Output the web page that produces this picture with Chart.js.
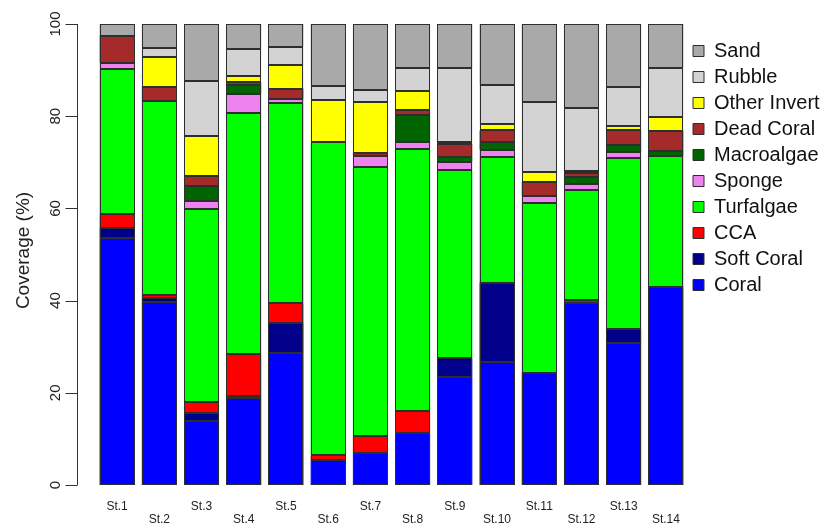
<!DOCTYPE html>
<html>
<head>
<meta charset="utf-8">
<script src="https://cdn.jsdelivr.net/npm/chart.js@4/dist/chart.umd.min.js"></script>
<style>
  html, body { margin: 0; padding: 0; background: #ffffff; }
  #wrap { width: 829px; height: 527px; position: relative; }
</style>
</head>
<body>
<div id="wrap"><canvas id="c"></canvas></div>
<script>
// Stations along the x axis
const stations = ['St.1','St.2','St.3','St.4','St.5','St.6','St.7','St.8','St.9','St.10','St.11','St.12','St.13','St.14'];

// Percent cover per benthic category, one value per station (bottom of stack first)
const coral       = [53.5, 39.8, 13.9, 18.8, 28.6,  5.4,  7.0, 11.2, 23.5, 26.7, 24.4, 39.5, 30.7, 43.0];
const softCoral   = [ 2.2,  0.7,  1.8,  0.6,  6.6,  0.0,  0.0,  0.0,  4.0, 17.2,  0.0,  0.0,  3.1,  0.0];
const cca         = [ 3.0,  0.7,  2.4,  9.0,  4.2,  1.0,  3.7,  4.9,  0.0,  0.0,  0.0,  0.6,  0.0,  0.0];
const turfalgae   = [31.5, 42.1, 41.7, 52.4, 43.4, 67.9, 58.3, 56.7, 40.8, 27.3, 36.8, 23.9, 37.2, 28.4];
const sponge      = [ 1.4,  0.0,  1.9,  4.0,  0.9,  0.0,  2.4,  1.7,  1.8,  1.5,  1.5,  1.4,  1.3,  0.0];
const macroalgae  = [ 0.0,  0.0,  3.2,  2.0,  0.0,  0.0,  0.0,  5.8,  1.1,  1.6,  0.0,  1.5,  1.5,  1.1];
const deadCoral   = [ 5.9,  3.1,  2.1,  0.7,  2.3,  0.0,  0.7,  1.0,  2.8,  2.6,  3.1,  0.7,  3.2,  4.3];
const otherInvert = [ 0.0,  6.5,  8.7,  1.2,  5.0,  9.2, 11.0,  4.2,  0.5,  1.5,  2.2,  0.5,  0.9,  3.1];
const rubble      = [ 0.0,  2.0, 11.9,  5.8,  4.1,  3.1,  2.6,  4.9, 15.9,  8.4, 15.1, 13.7,  8.5, 10.6];
const sand        = [ 2.5,  5.1, 12.4,  5.5,  4.9, 13.4, 14.3,  9.6,  9.6, 13.2, 16.9, 18.2, 13.6,  9.5];

// Y axis ticks
const yTicks = [0, 20, 40, 60, 80, 100];
const yTitle = 'Coverage (%)';

const FONT = '"Liberation Sans", Arial, Helvetica, sans-serif';
const EDGE = '#2e2e2e';
Chart.defaults.font.family = FONT;

const series = [
  { label: 'Coral',        data: coral,       color: '#0000FF' },
  { label: 'Soft Coral',   data: softCoral,   color: '#00008B' },
  { label: 'CCA',          data: cca,         color: '#FF0000' },
  { label: 'Turfalgae',    data: turfalgae,   color: '#00FF00' },
  { label: 'Sponge',       data: sponge,      color: '#EE82EE' },
  { label: 'Macroalgae',   data: macroalgae,  color: '#006400' },
  { label: 'Dead Coral',   data: deadCoral,   color: '#A52A2A' },
  { label: 'Other Invert', data: otherInvert, color: '#FFFF00' },
  { label: 'Rubble',       data: rubble,      color: '#D3D3D3' },
  { label: 'Sand',         data: sand,        color: '#A9A9A9' }
];

// Staggered station labels: odd stations on the first line, even on the second
const tickLabels = stations.map((s, i) => i % 2 === 0 ? [s] : ['', s]);

// Crisp 1px outline around every stacked segment, taken from the bar elements
const segmentOutline = {
  id: 'segmentOutline',
  afterDatasetsDraw(chart) {
    const { ctx } = chart;
    ctx.save();
    ctx.strokeStyle = EDGE;
    ctx.lineWidth = 1;
    chart.data.datasets.forEach((ds, di) => {
      const meta = chart.getDatasetMeta(di);
      if (meta.hidden) return;
      meta.data.forEach(bar => {
        const { x, y, base, width } = bar.getProps(['x', 'y', 'base', 'width'], true);
        const l = Math.round(x - width / 2) + 0.5;
        const r = Math.round(x + width / 2) - 0.5;
        const t = Math.round(Math.min(y, base)) + 0.5;
        const b = Math.round(Math.max(y, base)) - 0.5;
        ctx.strokeRect(l, t, r - l, Math.max(b - t, 0));
      });
    });
    ctx.restore();
  }
};

// Base-graphics style left axis: detached line, outward ticks, rotated labels
const sideAxis = {
  id: 'sideAxis',
  afterDraw(chart) {
    const { ctx, chartArea, scales: { y } } = chart;
    const ax = Math.round(chartArea.left - 19) + 0.5;
    ctx.save();
    ctx.strokeStyle = '#333';
    ctx.lineWidth = 1;
    ctx.beginPath();
    ctx.moveTo(ax, y.getPixelForValue(yTicks[0]));
    ctx.lineTo(ax, y.getPixelForValue(yTicks[yTicks.length - 1]));
    yTicks.forEach(v => {
      const py = Math.round(y.getPixelForValue(v)) + 0.5;
      ctx.moveTo(ax - 12, py);
      ctx.lineTo(ax, py);
    });
    ctx.stroke();

    ctx.fillStyle = '#222';
    ctx.textAlign = 'center';
    ctx.textBaseline = 'middle';
    ctx.font = '15px ' + FONT;
    yTicks.forEach(v => {
      ctx.save();
      ctx.translate(ax - 22, y.getPixelForValue(v));
      ctx.rotate(-Math.PI / 2);
      ctx.fillText(String(v), 0, 0);
      ctx.restore();
    });

    ctx.font = '19px ' + FONT;
    ctx.save();
    ctx.translate(24, (chartArea.top + chartArea.bottom) / 2 - 4);
    ctx.rotate(-Math.PI / 2);
    ctx.fillText(yTitle, 0, 0);
    ctx.restore();
    ctx.restore();
  }
};

new Chart(document.getElementById('c'), {
  type: 'bar',
  data: {
    labels: tickLabels,
    datasets: series.map(s => ({
      label: s.label,
      data: s.data,
      backgroundColor: s.color,
      borderWidth: 0,
      inflateAmount: 0,
      categoryPercentage: 1.0,
      barPercentage: 0.83
    }))
  },
  options: {
    responsive: true,
    maintainAspectRatio: false,
    animation: false,
    layout: { padding: { left: 96, top: 24, right: 0, bottom: -14.4 } },
    scales: {
      x: {
        stacked: true,
        grid: { display: false, drawTicks: false },
        border: { display: false },
        ticks: {
          autoSkip: false,
          maxRotation: 0,
          minRotation: 0,
          padding: 15,
          color: '#222',
          font: { size: 12, lineHeight: 1.1 }
        }
      },
      y: {
        stacked: true,
        display: false,
        min: 0,
        max: 100
      }
    },
    plugins: {
      legend: {
        position: 'right',
        align: 'start',
        reverse: true,
        maxWidth: 142,
        title: { display: true, text: '', font: { size: 8, lineHeight: 1 }, padding: { top: 0, bottom: 3 } },
        labels: {
          boxWidth: 11,
          boxHeight: 11,
          padding: 6,
          color: '#111',
          font: { size: 20 },
          generateLabels(chart) {
            return Chart.defaults.plugins.legend.labels.generateLabels(chart)
              .map(item => Object.assign(item, { lineWidth: 1, strokeStyle: EDGE }));
          }
        }
      },
      tooltip: { enabled: false }
    }
  },
  plugins: [segmentOutline, sideAxis]
});
</script>
</body>
</html>
